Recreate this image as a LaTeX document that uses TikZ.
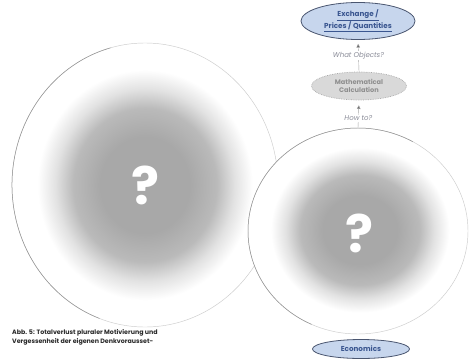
\documentclass[tikz,border=0pt]{standalone}
\usepackage{fontspec}
\setmainfont{Poppins}
\usetikzlibrary{shapes.geometric,arrows.meta}
\definecolor{blobA}{HTML}{A8A8A8}
\definecolor{blobB}{HTML}{BABABA}
\definecolor{blobC}{HTML}{E2E2E2}
\definecolor{ecofill}{HTML}{C7D6ED}
\definecolor{ecoline}{HTML}{4A5670}
\definecolor{ecotext}{HTML}{3A5690}
\definecolor{mathfill}{HTML}{D9D9D9}
\definecolor{mathline}{HTML}{AAAAAA}
\definecolor{mathtext}{HTML}{8E8E8E}
\definecolor{labtext}{HTML}{8A8C98}
\definecolor{captext}{HTML}{2A2A2A}
\pgfdeclareradialshading{blob}{\pgfpoint{0bp}{0bp}}{color(0bp)=(blobA); color(10bp)=(blobA); color(16bp)=(blobB); color(20bp)=(blobC); color(24bp)=(white); color(50bp)=(white)}
\tikzset{
  ringnode/.style={ellipse, draw=gray!40, line width=0.45pt, inner sep=0pt},
  ringdark/.style={draw=gray!85, line width=0.5pt},
  qmark/.style={text=white, font=\fontsize{52}{52}\selectfont\bfseries, inner sep=0pt},
  ecobox/.style={ellipse, draw=ecoline, line width=0.8pt, fill=ecofill, text=ecotext, font=\fontsize{7.2}{8.4}\selectfont\bfseries, align=center, inner sep=0pt},
  mathbox/.style={ellipse, draw=mathline, densely dotted, line width=0.7pt, fill=mathfill, text=mathtext, font=\fontsize{6.6}{8}\selectfont\bfseries, align=center, inner sep=0pt},
  qlabel/.style={fill=white, text=labtext, font=\fontsize{7}{7}\selectfont\itshape, inner sep=1pt},
  uparrow/.style={draw=gray!70, line width=0.4pt, -{Triangle[width=3.6pt,length=3.6pt,fill=gray!80!black]}},
  captionstyle/.style={anchor=north west, align=left, text=captext, font=\fontsize{6.3}{9.6}\selectfont\bfseries, inner sep=0pt}
}
\begin{document}
\begin{tikzpicture}[x=1pt,y=-1pt]
\useasboundingbox[fill=white] (0,0) rectangle (470,361);
% left circle
\shade[shading=blob] (145,185) ellipse[x radius=112pt, y radius=120pt];
\node[ringnode, minimum width=266pt, minimum height=284pt] (L) at (145,185) {};
\draw[ringdark] ([shift={(105:133pt and 142pt)}]L.center) arc[start angle=105, end angle=250, x radius=133pt, y radius=142pt];
\node[qmark] (qL) at (145,185) {?};
% right circle
\node[ringnode, fill=white, minimum width=220pt, minimum height=206pt] (R) at (358,231) {};
\draw[ringdark] ([shift={(60:110pt and 103pt)}]R.center) arc[start angle=60, end angle=245, x radius=110pt, y radius=103pt];
\shade[shading=blob] (360,230) ellipse[x radius=93pt, y radius=86pt];
\node[qmark] (qR) at (359,233) {?};
% top nodes
\node[ecobox, minimum width=114pt, minimum height=37pt] (ex) at (358,21) {\underline{Exchange /}\\\underline{Prices / Quantities}};
\node[mathbox, minimum width=95pt, minimum height=28pt] (ma) at (359,86) {Mathematical\\Calculation};
\node[ecobox, minimum width=97pt, minimum height=19pt] (ec) at (361,349) {Economics};
% arrows
\draw[uparrow, shorten >=4pt] (ma.north) -- node[qlabel] (wo) {What Objects?} (ex.south);
\draw[uparrow, shorten >=5pt] (R.north) -- node[qlabel, pos=0.35] (ht) {How to?} (ma.south);
% caption
\node[captionstyle] (cap) at (12,329) {Abb. 5: Totalverlust pluraler Motivierung und\\Vergessenheit der eigenen Denkvorausset-};
\end{tikzpicture}
\end{document}
